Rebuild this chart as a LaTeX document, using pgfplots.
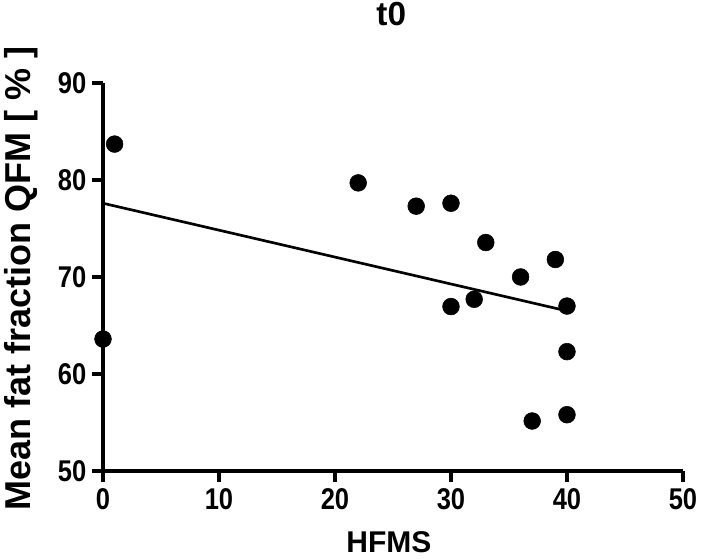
\documentclass[border=0pt]{standalone}
\usepackage{fontspec}
\setmainfont{Liberation Sans}
\newfontfamily\narrowsans[FakeStretch=0.85]{Liberation Sans}
\usepackage{pgfplots}
\pgfplotsset{compat=1.18}

\begin{document}
\begin{tikzpicture}
\begin{axis}[
    scale only axis,
    width=435pt, height=291pt,
    xmin=0, xmax=50,
    ymin=50, ymax=90,
    xtick={0,10,20,30,40,50},
    ytick={50,60,70,80,90},
    axis x line*=bottom,
    axis y line*=left,
    axis line style={line width=2.6pt},
    tick style={line width=2.4pt, black},
    tick align=outside,
    major tick length=8pt,
    clip=false,
    /pgf/number format/assume math mode=true,
    ticklabel style={font=\fontsize{22.5}{22.5}\narrowsans\bfseries},
    xticklabel style={yshift=-2pt},
    yticklabel style={xshift=-1pt},
    title={t0},
    title style={font=\fontsize{25}{25}\selectfont\bfseries, at={(rel axis cs:0.497,1.158)}, anchor=center},
    xlabel={HFMS},
    ylabel={Mean fat fraction QFM [ \% ]},
    xlabel style={font=\fontsize{22.5}{22.5}\selectfont\bfseries, at={(rel axis cs:0.493,-0.183)}, anchor=center},
    ylabel style={font=\fontsize{27}{27}\selectfont\bfseries, at={(rel axis cs:-0.1414,0.497)}, anchor=center, rotate=0},
]
\addplot[only marks, mark=*, mark size=6.3pt, black] coordinates {
(0,63.6) (1,83.7) (22,79.7) (27,77.3) (30,77.6) (33,73.55)
(39,71.8) (36,70.0) (32,67.7) (30,66.95) (40,67.0) (40,62.3)
(40,55.8) (37,55.15)
};
\addplot[black, line width=2pt] coordinates {(0,77.6) (40,66.5)};
\coordinate (bbsw) at (rel axis cs:-0.1776,-0.2268);
\coordinate (bbne) at (rel axis cs:1.0328,1.2139);
\end{axis}
\pgfresetboundingbox
\path[use as bounding box] (bbsw) rectangle (bbne);
\end{tikzpicture}
\end{document}
